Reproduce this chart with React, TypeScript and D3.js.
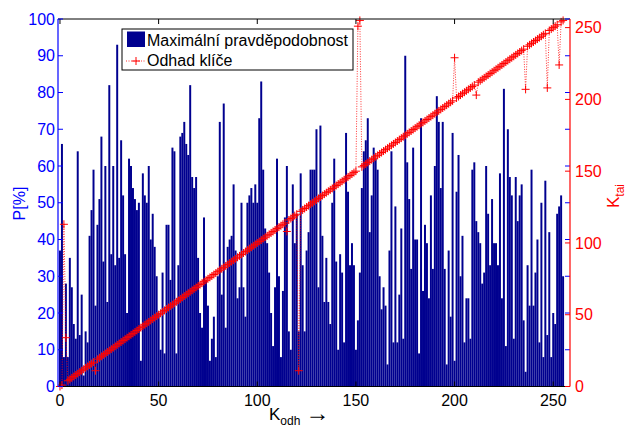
import React from "react";
import * as d3 from "d3";

// maximum probability per key guess [%], keys 0..255
const maxProb = [
  37, 66, 8, 28, 8, 35, 27, 17, 13, 64, 14, 25, 3, 15, 12, 41,
  48, 59, 22, 44, 51, 68, 34, 60, 23, 82, 36, 60, 33, 93, 35, 67,
  52, 36, 20, 62, 60, 54, 51, 48, 50, 7, 58, 52, 50, 60, 40, 47,
  38, 30, 20, 10, 31, 9, 44, 44, 29, 65, 64, 9, 33, 68, 69, 72,
  66, 63, 82, 57, 54, 57, 35, 20, 16, 46, 29, 22, 7, 13, 19, 8,
  30, 72, 25, 77, 16, 38, 40, 41, 55, 37, 24, 27, 50, 27, 19, 50,
  52, 54, 50, 55, 50, 73, 83, 59, 43, 39, 31, 20, 11, 27, 62, 30,
  8, 26, 46, 60, 15, 10, 55, 39, 47, 15, 58, 33, 15, 37, 42, 59,
  59, 59, 70, 27, 71, 41, 23, 35, 23, 17, 50, 62, 34, 10, 36, 31,
  12, 69, 53, 33, 39, 33, 10, 18, 31, 54, 64, 67, 73, 42, 52, 65,
  62, 59, 30, 21, 27, 22, 6, 37, 64, 12, 49, 12, 25, 43, 13, 90,
  61, 51, 32, 65, 40, 40, 9, 73, 26, 44, 39, 24, 52, 32, 60, 79,
  72, 54, 72, 32, 6, 37, 19, 69, 7, 53, 63, 30, 41, 12, 24, 24,
  13, 59, 61, 45, 42, 39, 28, 31, 60, 47, 33, 51, 39, 39, 33, 58,
  24, 81, 11, 70, 57, 52, 13, 57, 45, 52, 55, 18, 4, 33, 22, 59,
  22, 31, 40, 12, 50, 8, 56, 14, 42, 8, 20, 17, 47, 49, 52, 30,
];

// estimated key for each guess
const keyEst = [
  0, 1, 113, 34, 4, 5, 6, 7, 8, 9, 10, 11, 12, 13, 14, 15,
  16, 17, 11, 19, 20, 21, 22, 23, 24, 25, 26, 27, 28, 29, 30, 31,
  32, 33, 34, 35, 36, 37, 38, 39, 40, 41, 42, 43, 44, 45, 46, 47,
  48, 49, 50, 51, 52, 53, 54, 55, 56, 57, 58, 59, 60, 61, 62, 63,
  64, 65, 66, 67, 68, 69, 70, 71, 72, 73, 74, 75, 76, 77, 78, 79,
  80, 81, 82, 83, 84, 85, 86, 87, 88, 89, 90, 91, 92, 93, 94, 95,
  96, 97, 98, 99, 100, 101, 102, 103, 104, 105, 106, 107, 108, 109, 110, 111,
  112, 113, 114, 108, 116, 117, 118, 119, 120, 11, 122, 123, 124, 125, 126, 127,
  128, 129, 130, 131, 132, 133, 134, 135, 136, 137, 138, 139, 140, 141, 142, 143,
  144, 145, 146, 147, 148, 149, 150, 251, 255, 153, 154, 155, 156, 157, 158, 159,
  160, 161, 162, 163, 164, 165, 166, 167, 168, 169, 170, 171, 172, 173, 174, 175,
  176, 177, 178, 179, 180, 181, 182, 183, 184, 185, 186, 187, 188, 189, 190, 191,
  192, 193, 194, 195, 196, 197, 198, 199, 229, 201, 202, 203, 204, 205, 206, 207,
  208, 209, 210, 203, 212, 213, 214, 215, 216, 217, 218, 219, 220, 221, 222, 223,
  224, 225, 226, 227, 228, 229, 230, 231, 232, 233, 234, 235, 207, 237, 238, 239,
  240, 241, 242, 243, 244, 245, 246, 208, 248, 249, 250, 251, 252, 224, 254, 255,
];

const xTicks = [0, 50, 100, 150, 200, 250];
const pTicks = [0, 10, 20, 30, 40, 50, 60, 70, 80, 90, 100];
const kTicks = [0, 50, 100, 150, 200, 250];

const FONT = "'Liberation Sans', Arial, Helvetica, sans-serif";
const NAVY = "#00008f";
const BLUE = "#0000ff";
const RED = "#ff0000";

export default function App() {
  const width = 626, height = 426;
  const left = 58, right = 570, top = 19, bottom = 386.5;

  const x = d3.scaleLinear().domain([-1, 258.5]).range([left, right]);
  const yP = d3.scaleLinear().domain([0, 100]).range([bottom, top]);
  const yK = d3.scaleLinear().domain([0, 256]).range([bottom, top]);
  const bw = x(1) - x(0);

  const line = d3.line<number>()
    .x((d, i) => x(i))
    .y(d => yK(d));

  // "+" markers as one path
  const plus = (cx: number, cy: number, r = 4) =>
    `M${cx - r},${cy}h${2 * r}M${cx},${cy - r}v${2 * r}`;
  const markers = keyEst.map((d, i) => plus(x(i), yK(d))).join("");

  const tl = 5; // tick length

  return (
    <svg width={width} height={height} style={{ position: "absolute", left: 0, top: 0, background: "#fff" }}
      fontFamily={FONT}>
      {/* bars */}
      <g>
        {maxProb.map((v, i) => (
          <rect key={i} x={x(i) - bw / 2} y={yP(v)} width={bw} height={bottom - yP(v)} fill={NAVY} />
        ))}
      </g>

      {/* key estimate line */}
      <path d={line(keyEst) || ""} fill="none" stroke={RED} strokeWidth={0.8} strokeDasharray="1 1.5" />
      <path d={markers} fill="none" stroke={RED} strokeWidth={1} />

      {/* box: top and bottom black */}
      <line x1={left} x2={right} y1={top} y2={top} stroke="#000" strokeWidth={1} />
      <line x1={left} x2={right} y1={bottom} y2={bottom} stroke="#000" strokeWidth={1} />
      {xTicks.map(t => (
        <g key={"xt" + t}>
          <line x1={x(t)} x2={x(t)} y1={bottom} y2={bottom - tl} stroke="#000" />
          <line x1={x(t)} x2={x(t)} y1={top} y2={top + tl} stroke="#000" />
          <text x={x(t)} y={406} fontSize={16} textAnchor="middle" fill="#000">{t}</text>
        </g>
      ))}

      {/* left axis (blue) */}
      <line x1={left} x2={left} y1={top} y2={bottom} stroke={BLUE} strokeWidth={1.2} />
      {pTicks.map(t => (
        <g key={"pt" + t}>
          <line x1={left} x2={left + tl} y1={yP(t)} y2={yP(t)} stroke={BLUE} />
          <line x1={right} x2={right - tl} y1={yP(t)} y2={yP(t)} stroke={BLUE} />
          <text x={55} y={yP(t) + 5.7} fontSize={16} textAnchor="end" fill={BLUE}>{t}</text>
        </g>
      ))}

      {/* right axis (red) */}
      <line x1={right} x2={right} y1={top} y2={bottom} stroke={RED} strokeWidth={1.2} />
      {kTicks.map(t => (
        <g key={"kt" + t}>
          <line x1={right} x2={right - tl} y1={yK(t)} y2={yK(t)} stroke={RED} />
          <text x={575} y={yK(t) + 5.7} fontSize={16} textAnchor="start" fill={RED}>{t}</text>
        </g>
      ))}

      {/* axis labels */}
      <text transform="translate(24.5,203.5) rotate(-90)" fontSize={16} textAnchor="middle" fill={BLUE}>P[%]</text>
      <text transform="translate(619,196) rotate(-90)" fontSize={17} textAnchor="middle" fill={RED}>
        K<tspan fontSize={12} dy={5}>tai</tspan>
      </text>
      <text x={269} y={419.5} fontSize={17} fill="#000">
        K<tspan fontSize={12} dy={5}>odh</tspan><tspan dy={-4} dx={5} fontSize={24}>→</tspan>
      </text>

      {/* legend */}
      <g>
        <rect x={122} y={29} width={231} height={41} fill="#fff" stroke="#000" strokeWidth={1} />
        <rect x={127} y={31.5} width={18} height={15.5} fill={NAVY} />
        <text x={147} y={46} fontSize={16} fill="#000">Maximální pravděpodobnost</text>
        <line x1={126} x2={146} y1={61} y2={61} stroke={RED} strokeWidth={0.8} strokeDasharray="1 1.5" />
        <path d={plus(136, 61)} stroke={RED} strokeWidth={1} />
        <text x={147} y={66} fontSize={16} fill="#000">Odhad klíče</text>
      </g>
    </svg>
  );
}
